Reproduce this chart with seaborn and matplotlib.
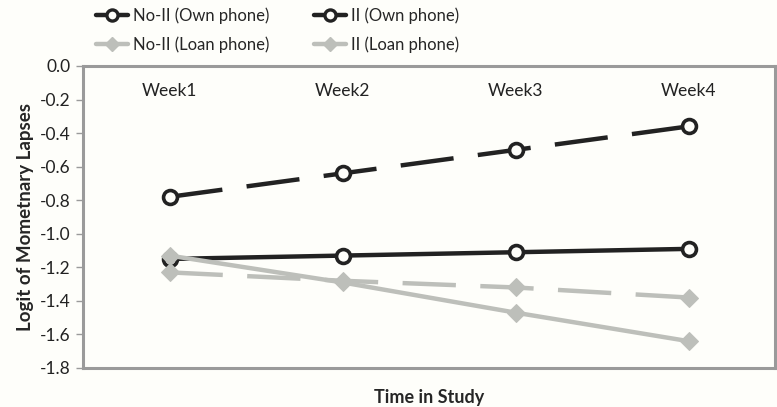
import numpy as np
import pandas as pd
import matplotlib
matplotlib.use("Agg")
import matplotlib.pyplot as plt
from matplotlib.lines import Line2D
from matplotlib import font_manager
import seaborn as sns

# Data
weeks = ["Week1", "Week2", "Week3", "Week4"]
own_solid = [-1.15, -1.13, -1.11, -1.09]
own_dashed = [-0.78, -0.64, -0.50, -0.36]
loan_solid = [-1.13, -1.29, -1.47, -1.64]
loan_dashed = [-1.23, -1.28, -1.32, -1.38]
legend_labels = ["No-II (Own phone)", "II (Own phone)", "No-II (Loan phone)", "II (Loan phone)"]
y_ticks = [0.0, -0.2, -0.4, -0.6, -0.8, -1.0, -1.2, -1.4, -1.6, -1.8]

sns.set_style("white")
plt.rcParams["font.family"] = ["Lato", "DejaVu Sans"]

names = {f.name for f in font_manager.fontManager.ttflist}
legend_family = "Liberation Sans Narrow" if "Liberation Sans Narrow" in names else "Lato"

bg = "#fefefa"
black = "#222222"
gray = "#bdbfba"
frame = "#9a9a9a"

fig = plt.figure(figsize=(7.77, 4.07), dpi=100, facecolor=bg)
ax = fig.add_axes([83 / 777, 1 - 368 / 407, (775 - 83) / 777, (368 - 66) / 407])
ax.set_facecolor(bg)

x = np.arange(len(weeks))
dash = (0, (12, 5.5))

sns.lineplot(x=x, y=own_dashed, ax=ax, color=black, lw=3.2, linestyle=dash,
             marker="o", markersize=10, markerfacecolor=bg, markeredgecolor=black,
             markeredgewidth=2.6, zorder=3)
sns.lineplot(x=x, y=own_solid, ax=ax, color=black, lw=3.2,
             marker="o", markersize=10, markerfacecolor=bg, markeredgecolor=black,
             markeredgewidth=2.6, zorder=3)
sns.lineplot(x=x, y=loan_dashed, ax=ax, color=gray, lw=3.2, linestyle=dash,
             marker="D", markersize=9, markerfacecolor=gray, markeredgecolor=gray, zorder=4)
sns.lineplot(x=x, y=loan_solid, ax=ax, color=gray, lw=3.2,
             marker="D", markersize=9, markerfacecolor=gray, markeredgecolor=gray, zorder=4)

ax.set_xlim(-0.5, 3.5)
ax.set_ylim(-1.8, 0.0)
ax.set_yticks(y_ticks)
ax.set_yticklabels([f"{v:.1f}" for v in y_ticks], fontsize=12.5, color="#222222")
ax.tick_params(axis="y", direction="out", length=5, width=1, color=frame, left=True, pad=4)

ax.set_xticks(x)
ax.set_xticklabels(weeks, fontsize=12.5, color="#222222")
ax.xaxis.set_ticks_position("top")
ax.tick_params(axis="x", length=0, pad=-24)

for s in ax.spines.values():
    s.set_visible(True)
    s.set_color(frame)
    s.set_linewidth(2.2)

ax.set_ylabel("Logit of Mometnary Lapses", fontsize=13.5, fontweight="bold", labelpad=4)
ax.set_xlabel("")
fig.text(429 / 777, 1 - 397 / 407, "Time in Study", ha="center", va="center",
         fontsize=13, fontweight="bold")

h_own = Line2D([], [], color=black, lw=3.2, marker="o", markersize=8, markerfacecolor=bg,
               markeredgecolor=black, markeredgewidth=2.4)
h_loan = Line2D([], [], color=gray, lw=3.2, marker="D", markersize=7, markerfacecolor=gray,
                markeredgecolor=gray)
# legend fills column-first, so order the entries to give two rows
handles = [h_own, h_loan, h_own, h_loan]
labels = [legend_labels[0], legend_labels[2], legend_labels[1], legend_labels[3]]
fig.legend(handles, labels, ncol=2, frameon=False,
           prop={"family": [legend_family, "DejaVu Sans"], "size": 12},
           loc="upper left", bbox_to_anchor=(81 / 777, 1.018), handlelength=1.9,
           handletextpad=0.3, columnspacing=2.7, labelspacing=0.75)

fig.savefig("out.png", dpi=100, facecolor=bg)
